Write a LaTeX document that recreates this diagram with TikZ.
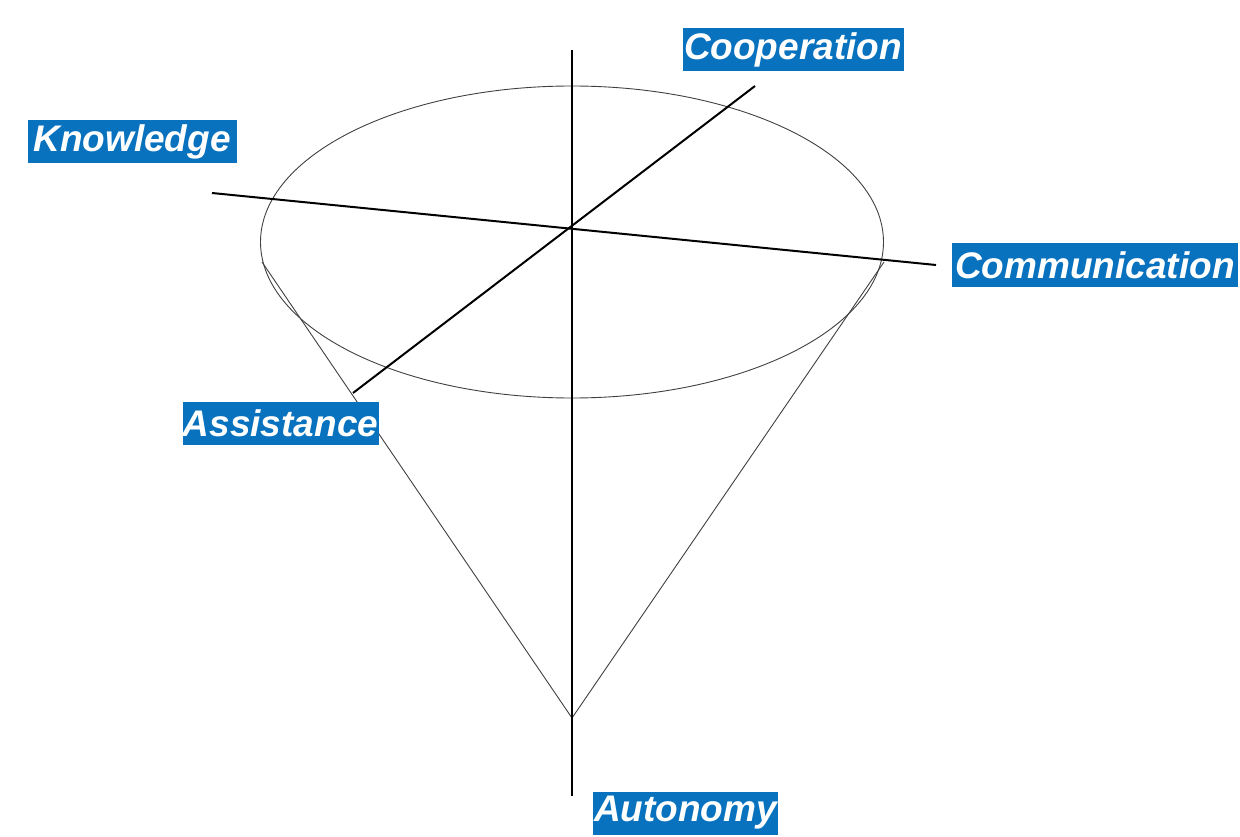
\documentclass[tikz,border=0pt]{standalone}
\usepackage{fontspec}
\setmainfont{Liberation Sans}
\definecolor{lblblue}{RGB}{8,114,190}
\begin{document}
\begin{tikzpicture}[x=1pt,y=-1pt,
  axisline/.style={line width=2pt,black},
  thinline/.style={line width=0.9pt,black!75},
  lbl/.style={fill=lblblue,text=white,font=\fontsize{37}{40}\selectfont\bfseries\itshape,inner xsep=0pt,inner ysep=0pt,minimum height=43pt,anchor=center}]
\useasboundingbox (0,0) rectangle (1240,837);
% cone
\node[draw=none,inner sep=0pt,minimum size=0pt] (apex) at (572,718) {};
\coordinate (cl) at (262,262);
\coordinate (cr) at (884,262);
\draw[thinline] (572,242) ellipse [x radius=311.5,y radius=156];
\draw[thinline] (cl) -- (apex.center) -- (cr);
% axes
\coordinate (vtop) at (572,50);
\coordinate (vbot) at (572,796);
\coordinate (kend) at (212,193);
\coordinate (cend) at (936,265);
\coordinate (aend) at (353,393);
\coordinate (coend) at (755,86);
\draw[axisline] (vtop) -- (vbot);
\draw[axisline] (kend) -- (cend);
\draw[axisline] (aend) -- (coend);
% labels
\node[lbl,minimum width=221pt] (coop) at (793,50) {Cooperation};
\node[lbl,minimum width=209pt] (know) at (132,141.5) {Knowledge};
\node[lbl,minimum width=286pt] (comm) at (1095,265) {Communication};
\node[lbl,minimum width=196pt] (assist) at (280.5,423.5) {Assistance};
\node[lbl,minimum width=185pt] (auto) at (685.5,813) {Autonomy};
\end{tikzpicture}
\end{document}
